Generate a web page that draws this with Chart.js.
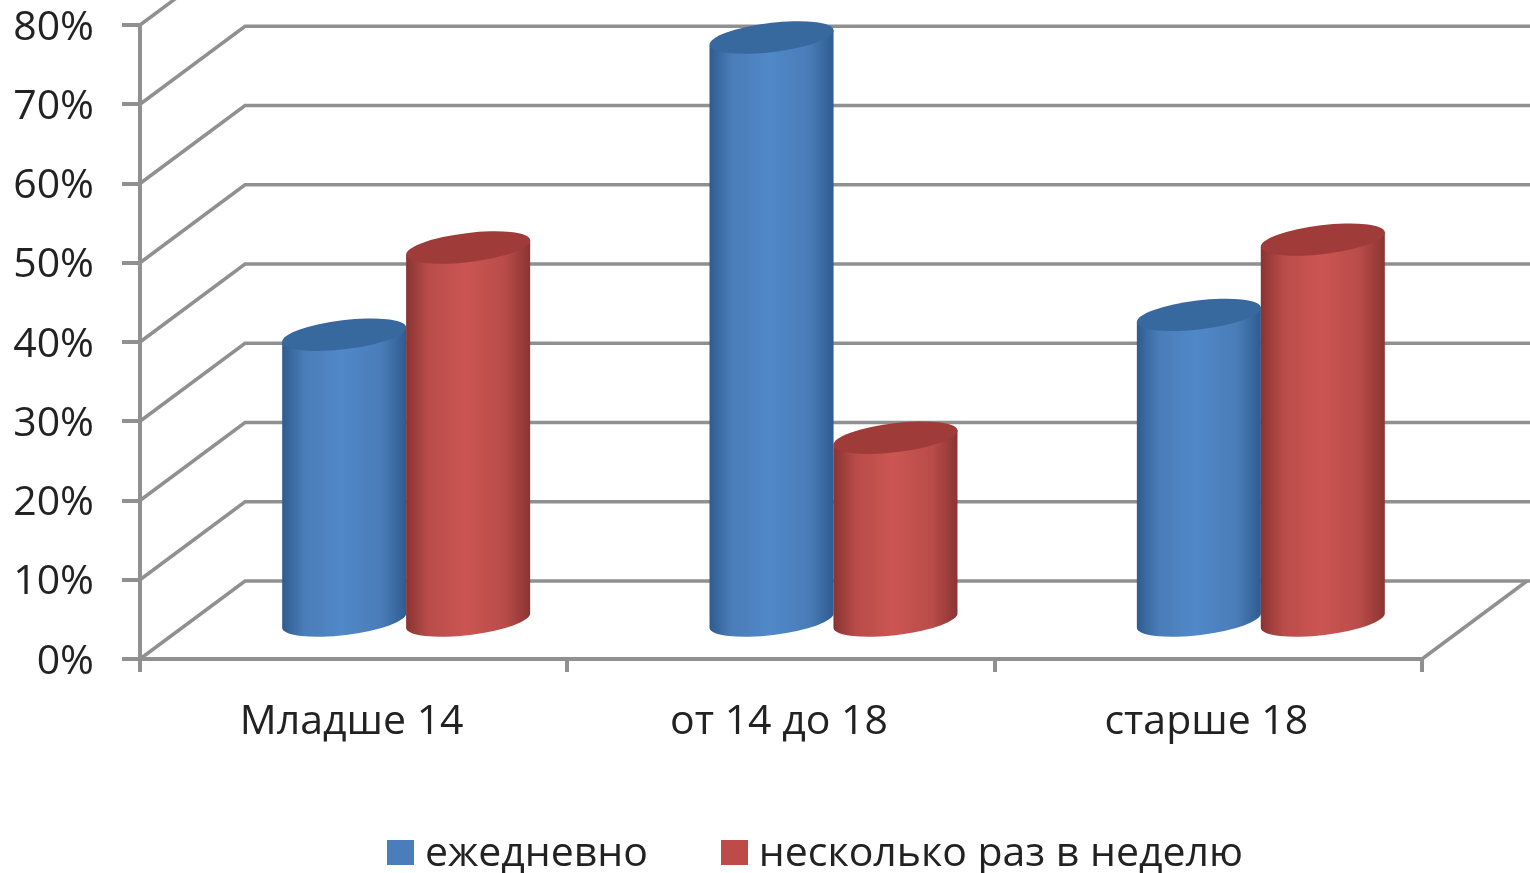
<!DOCTYPE html>
<html>
<head>
<meta charset="utf-8">
<script src="https://cdn.jsdelivr.net/npm/chart.js@4"></script>
<style>
    html, body { margin: 0; padding: 0; background: #fff; overflow: hidden; }
    #chart-box { position: relative; width: 1530px; height: 873px; }
    #legend { position: absolute; left: 387px; top: 822px; display: flex;
        font: 41px/56px 'Open Sans', sans-serif; color: #222; white-space: nowrap; }
    #legend span { display: flex; align-items: center; margin-right: 73px; }
    #legend i { display: inline-block; position: relative; top: 2px; width: 27px; height: 25px; margin-right: 11px; }
</style>
</head>
<body>
<div id="chart-box"><canvas id="chart"></canvas><div id="legend"></div></div>
<script>
    var categories = ["Младше 14", "от 14 до 18", "старше 18"];
    var seriesNames = ["ежедневно", "несколько раз в неделю"];
    var dailyValues = [36, 73.5, 38.5];
    var weeklyValues = [47, 23, 48];
    var tickValues = [0, 10, 20, 30, 40, 50, 60, 70, 80];

    var blue = { base: "#4a7db8", light: "#5088c8", dark: "#2e5c90", top: "#37689e" };
    var red = { base: "#b84c49", light: "#cc5552", dark: "#8a3432", top: "#9f3b39" };

    var GRID = "#909090";
    var DEPTH_X = 105, DEPTH_Y = -78;   // wall offset from the front axis
    var FONT = "'Open Sans', sans-serif";

    /*
    ** Walls and floor behind the bars
    */
    function drawWalls(chart) {
        var ctx = chart.ctx, y = chart.scales.y, area = chart.chartArea;
        var floorY = y.getPixelForValue(0);
        ctx.save();
        ctx.strokeStyle = GRID;
        ctx.lineWidth = 3.5;
        tickValues.forEach(function (v) {
            var py = y.getPixelForValue(v);
            ctx.beginPath();
            ctx.moveTo(area.left, py);
            ctx.lineTo(area.left + DEPTH_X, py + DEPTH_Y);
            ctx.lineTo(chart.width, py + DEPTH_Y);
            ctx.stroke();
        });
        // floor, right side
        ctx.beginPath();
        ctx.moveTo(area.right, floorY);
        ctx.lineTo(area.right + DEPTH_X, floorY + DEPTH_Y);
        ctx.stroke();
        // front axes
        ctx.lineWidth = 4;
        ctx.beginPath();
        ctx.moveTo(area.left, y.getPixelForValue(80));
        ctx.lineTo(area.left, floorY);
        ctx.lineTo(area.right, floorY);
        ctx.stroke();
        ctx.restore();
    }

    /*
    ** One cylinder from a bar element of the library
    */
    function drawCylinder(ctx, bar, colors) {
        var w = bar.width, rx = w / 2 + 0.5, ry = 14.5;
        var tilt = -0.12;
        var cx = bar.x + DEPTH_X / 2;
        var top = bar.y + DEPTH_Y / 2;
        var base = bar.base + DEPTH_Y / 2 + 2.5;
        var ex = rx * Math.cos(tilt), ey = rx * Math.sin(tilt);

        var grad = ctx.createLinearGradient(cx - ex, 0, cx + ex, 0);
        grad.addColorStop(0, colors.dark);
        grad.addColorStop(0.18, colors.base);
        grad.addColorStop(0.48, colors.light);
        grad.addColorStop(0.8, colors.base);
        grad.addColorStop(1, colors.dark);

        ctx.beginPath();
        ctx.moveTo(cx - ex, top - ey);
        ctx.lineTo(cx - ex, base - ey);
        ctx.ellipse(cx, base, rx, ry, tilt, Math.PI, 0, true);
        ctx.lineTo(cx + ex, top + ey);
        ctx.closePath();
        ctx.fillStyle = grad;
        ctx.fill();

        ctx.beginPath();
        ctx.ellipse(cx, top, rx, ry, tilt, 0, Math.PI * 2);
        ctx.fillStyle = colors.top;
        ctx.fill();
    }

    var cylinders = {
        id: "cylinders",
        beforeDatasetsDraw: function (chart) {
            drawWalls(chart);
            var palettes = [blue, red];
            chart.data.labels.forEach(function (label, i) {
                chart.data.datasets.forEach(function (ds, d) {
                    drawCylinder(chart.ctx, chart.getDatasetMeta(d).data[i], palettes[d]);
                });
            });
            return false;
        }
    };

    var chart = new Chart(document.getElementById("chart"), {
        type: "bar",
        data: {
            labels: categories,
            datasets: [
                { label: seriesNames[0], data: dailyValues, backgroundColor: "#4a7ebb", borderWidth: 0 },
                { label: seriesNames[1], data: weeklyValues, backgroundColor: "#be4b48", borderWidth: 0 }
            ]
        },
        options: {
            responsive: true,
            maintainAspectRatio: false,
            animation: false,
            devicePixelRatio: 1,
            layout: { padding: { top: 25, right: 108, left: 0, bottom: 0 } },
            categoryPercentage: 0.58,
            barPercentage: 1,
            plugins: {
                tooltip: { enabled: false },
                legend: { display: false }
            },
            scales: {
                x: {
                    grid: { drawOnChartArea: false, color: GRID, lineWidth: 4, tickLength: 13, tickColor: GRID },
                    border: { display: false },
                    afterFit: function (scale) { scale.height = 214; },
                    ticks: { color: "#222", padding: 26, labelOffset: -2, maxRotation: 0, font: { family: FONT, size: 41 } }
                },
                y: {
                    min: 0,
                    max: 80,
                    grid: { drawOnChartArea: false, color: GRID, lineWidth: 4, tickLength: 18, tickColor: GRID },
                    border: { display: false },
                    afterFit: function (scale) {
                        scale.width = 140;
                        scale.paddingTop = 0;
                        scale.paddingBottom = 0;
                    },
                    ticks: {
                        stepSize: 10,
                        color: "#222",
                        padding: 28,
                        labelOffset: 3,
                        font: { family: FONT, size: 41 },
                        callback: function (v) { return v + "%"; }
                    }
                }
            }
        },
        plugins: [cylinders]
    });

    /*
    ** Legend next to the canvas, filled from the datasets
    */
    chart.data.datasets.forEach(function (ds) {
        var item = document.createElement("span");
        var box = document.createElement("i");
        box.style.background = ds.backgroundColor;
        item.appendChild(box);
        item.appendChild(document.createTextNode(ds.label));
        document.getElementById("legend").appendChild(item);
    });
</script>
</body>
</html>
